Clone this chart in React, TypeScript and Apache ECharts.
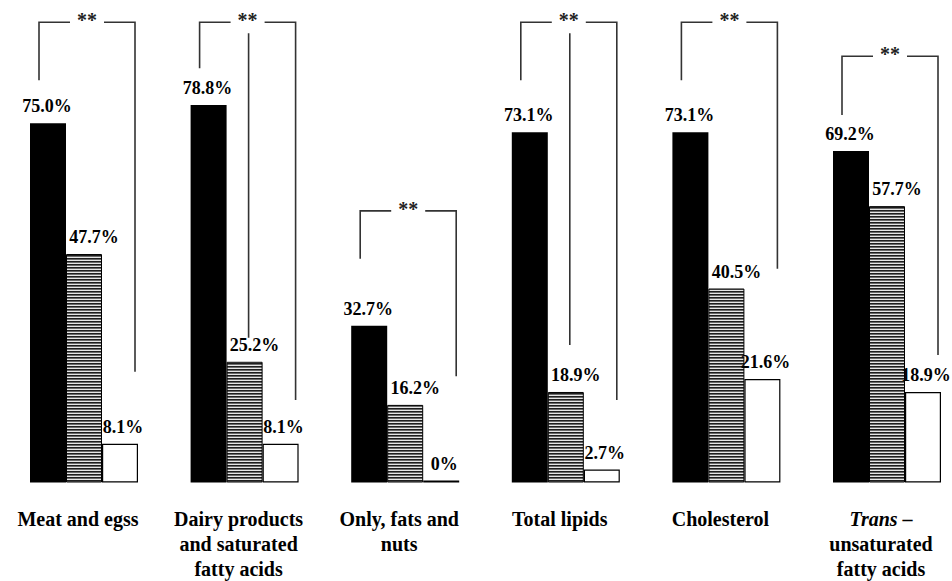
import React, { useEffect, useRef } from "react";
import * as echarts from "echarts";

const categories = [
  "Meat and egss",
  "Dairy products\nand saturated\nfatty acids",
  "Only, fats and\nnuts",
  "Total lipids",
  "Cholesterol",
  "{i|Trans} –\nunsaturated\nfatty acids",
];
const blackValues = [75.0, 78.8, 32.7, 73.1, 73.1, 69.2];
const stripedValues = [47.7, 25.2, 16.2, 18.9, 40.5, 57.7];
const whiteValues = [8.1, 8.1, 0, 2.7, 21.6, 18.9];

// significance brackets (values in % of the y scale)
const bracketLabel = ["**", "**", "**", "**", "**", "**"];
const bracketTop = [96.1, 96.1, 56.7, 96.1, 96.1, 89.0];
const bracketLeftEnd = [84.0, 86.5, 46.7, 84.0, 84.0, 76.7];
const bracketRightEnd = [23.1, 17.2, 22.2, 17.2, 44.6, 26.6];
const bracketMidTop: (number | null)[] = [null, 93.8, null, 93.8, null, null];
const bracketMidEnd: (number | null)[] = [null, 30.2, null, 28.7, null, null];

const SERIF = "'Liberation Serif', 'Times New Roman', serif";
const BAR_W = 36;

function fmt(v: number) {
  return v === 0 ? "0%" : v.toFixed(1) + "%";
}

export default function App() {
  const ref = useRef<HTMLDivElement>(null);
  useEffect(() => {
    if (!ref.current) return;
    const chart = echarts.init(ref.current, undefined, { renderer: "svg" });

    const cv = document.createElement("canvas");
    cv.width = 4;
    cv.height = 3;
    const ctx = cv.getContext("2d")!;
    ctx.fillStyle = "#e6e6e6";
    ctx.fillRect(0, 0, 4, 3);
    ctx.fillStyle = "#1e1e1e";
    ctx.fillRect(0, 0, 4, 1);
    ctx.fillStyle = "#6a6a6a";
    ctx.fillRect(0, 1, 4, 1);
    const pattern: any = { image: cv, repeat: "repeat" };

    const valueLabel = (dx: number) => ({
      show: true,
      position: "top",
      distance: 8,
      offset: [dx, 0],
      color: "#000",
      fontFamily: SERIF,
      fontWeight: "bold",
      fontSize: 18,
      formatter: (p: any) => fmt(p.value),
    });

    chart.setOption({
      animation: false,
      backgroundColor: "#fff",
      grid: { left: 3.7, top: 3.5, width: 963.6, height: 479, outerBoundsMode: "none", containLabel: false },
      xAxis: {
        type: "category",
        data: categories,
        axisLine: { show: false },
        axisTick: { show: false },
        axisLabel: {
          margin: 24,
          interval: 0,
          color: "#000",
          fontFamily: SERIF,
          fontWeight: "bold",
          fontSize: 20,
          lineHeight: 25,
          padding: [0, 12, 0, 0],
          rich: {
            i: {
              fontStyle: "italic",
              fontFamily: SERIF,
              fontWeight: "bold",
              fontSize: 20,
              lineHeight: 25,
              color: "#000",
            },
          },
        },
      },
      yAxis: {
        type: "value",
        min: 0,
        max: 100,
        show: false,
        splitLine: { show: false },
      },
      series: [
        {
          type: "bar",
          data: blackValues,
          barWidth: BAR_W,
          barGap: "0%",
          itemStyle: { color: "#000" },
          label: valueLabel(-1),
        },
        {
          type: "bar",
          data: stripedValues,
          barWidth: BAR_W,
          barGap: "0%",
          itemStyle: { color: pattern, borderColor: "#000", borderWidth: 1 },
          label: valueLabel(10),
        },
        {
          type: "bar",
          data: whiteValues,
          barWidth: BAR_W,
          barGap: "0%",
          barMinHeight: 2,
          itemStyle: { color: "#fff", borderColor: "#000", borderWidth: 1.2 },
          label: valueLabel(3),
        },
      ],
    });

    const lineStyle = { stroke: "#333", lineWidth: 1.6 };
    const elements: any[] = [];
    categories.forEach((_, i) => {
      const cx = chart.convertToPixel({ xAxisIndex: 0 }, i) as number;
      const y = (v: number) => chart.convertToPixel({ yAxisIndex: 0 }, v) as number;
      const lx = cx - BAR_W - 9;
      const rx = cx + BAR_W + 15;
      const ty = y(bracketTop[i]);
      const mid = (lx + rx) / 2;
      const gap = 17;
      elements.push({
        type: "polyline",
        silent: true,
        shape: { points: [[lx, y(bracketLeftEnd[i])], [lx, ty], [mid - gap, ty]] },
        style: { ...lineStyle, fill: null },
      });
      elements.push({
        type: "polyline",
        silent: true,
        shape: { points: [[mid + gap, ty], [rx, ty], [rx, y(bracketRightEnd[i])]] },
        style: { ...lineStyle, fill: null },
      });
      const mt = bracketMidTop[i];
      const me = bracketMidEnd[i];
      if (mt !== null && me !== null) {
        elements.push({
          type: "line",
          silent: true,
          shape: { x1: cx + 4, y1: y(mt), x2: cx + 4, y2: y(me) },
          style: { ...lineStyle },
        });
      }
      elements.push({
        type: "text",
        silent: true,
        x: mid,
        y: ty - 2,
        style: {
          text: bracketLabel[i],
          fill: "#222",
          font: `bold 20px ${SERIF}`,
          textAlign: "center",
          textVerticalAlign: "middle",
        },
      });
    });
    chart.setOption({ graphic: elements });

    return () => chart.dispose();
  }, []);
  return (
    <div
      ref={ref}
      style={{ position: "absolute", left: 0, top: 0, width: 952, height: 581, background: "#fff" }}
    />
  );
}
